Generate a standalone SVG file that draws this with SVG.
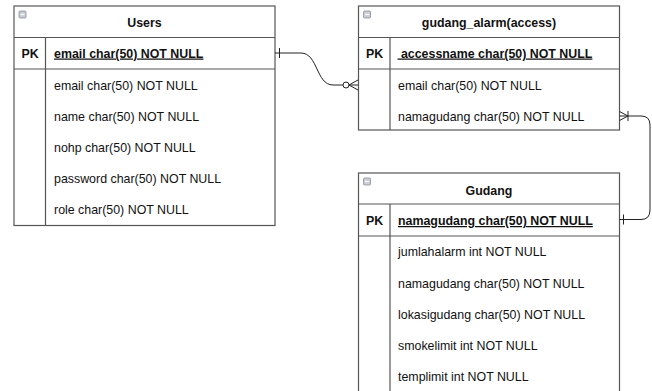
<svg xmlns="http://www.w3.org/2000/svg" width="652" height="391" viewBox="0 0 652 391">
<style>
.box{fill:#fff;stroke:#555;stroke-width:1.2}
.ln{stroke:#555;stroke-width:1.2;fill:none}
.t{font-family:"Liberation Sans",Arial,sans-serif;font-size:12.4px;fill:#111}
.b{font-weight:bold}
.c{text-anchor:middle}
.u{text-decoration:underline}
.icon{fill:#c8ccd4;stroke:#8a8f99;stroke-width:0.8}
.con{stroke:#222;stroke-width:1;fill:none}
</style>
<defs>
<g id="minus"><rect class="icon" x="0" y="0" width="7" height="7" rx="1"/><line x1="1.5" y1="3.5" x2="5.5" y2="3.5" stroke="#fff" stroke-width="1.2"/></g>
</defs>
<rect width="652" height="391" fill="#fff"/>

<g id="users">
<rect class="box" x="14" y="6" width="261" height="219.5"/>
<line class="ln" x1="14" y1="37.5" x2="275" y2="37.5"/>
<line class="ln" x1="14" y1="69" x2="275" y2="69"/>
<line class="ln" x1="45.5" y1="37.5" x2="45.5" y2="225.5"/>
<use href="#minus" x="19" y="11"/>
<text class="t b c" x="144.5" y="27">Users</text>
<text class="t b c" x="30" y="57.5">PK</text>
<text class="t b u" x="54" y="57.5">email char(50) NOT NULL</text>
<text class="t" x="54" y="90">email char(50) NOT NULL</text>
<text class="t" x="54" y="121">name char(50) NOT NULL</text>
<text class="t" x="54" y="152">nohp char(50) NOT NULL</text>
<text class="t" x="54" y="183">password char(50) NOT NULL</text>
<text class="t" x="54" y="214">role char(50) NOT NULL</text>
</g>

<g id="gudang_alarm">
<rect class="box" x="358.5" y="6" width="261" height="124"/>
<line class="ln" x1="358.5" y1="37.5" x2="619.5" y2="37.5"/>
<line class="ln" x1="358.5" y1="69" x2="619.5" y2="69"/>
<line class="ln" x1="390" y1="37.5" x2="390" y2="130"/>
<use href="#minus" x="363.5" y="11"/>
<text class="t b c" x="489" y="27">gudang_alarm(access)</text>
<text class="t b c" x="374.5" y="57.5">PK</text>
<text class="t b u" x="397.5" y="57.5" xml:space="preserve"> accessname char(50) NOT NULL</text>
<text class="t" x="398" y="90">email char(50) NOT NULL</text>
<text class="t" x="398" y="120.5">namagudang char(50) NOT NULL</text>
</g>

<g id="gudang">
<rect class="box" x="358.5" y="173" width="261" height="230"/>
<line class="ln" x1="358.5" y1="204" x2="619.5" y2="204"/>
<line class="ln" x1="358.5" y1="236" x2="619.5" y2="236"/>
<line class="ln" x1="390" y1="204" x2="390" y2="403"/>
<use href="#minus" x="363.5" y="178"/>
<text class="t b c" x="489" y="194.5">Gudang</text>
<text class="t b c" x="374.5" y="225">PK</text>
<text class="t b u" x="398" y="225">namagudang char(50) NOT NULL</text>
<text class="t" x="398" y="256">jumlahalarm int NOT NULL</text>
<text class="t" x="398" y="287.5">namagudang char(50) NOT NULL</text>
<text class="t" x="398" y="318.5">lokasigudang char(50) NOT NULL</text>
<text class="t" x="398" y="349.5">smokelimit int NOT NULL</text>
<text class="t" x="398" y="381">templimit int NOT NULL</text>
</g>

<g id="connectors">
<path class="con" d="M275,53 L301,53 C318,53 316,85 333,85 L343,85"/>
<line class="con" x1="279.5" y1="48" x2="279.5" y2="58"/>
<circle class="con" cx="346" cy="85" r="3" fill="#fff"/>
<path class="con" d="M358,80 L349,85 L358,90 M349,85 L358,85"/>

<path class="con" d="M619.5,116 L641,116 Q650,116 650,125 L650,210 Q650,219.5 641,219.5 L619.5,219.5"/>
<path class="con" d="M619.5,111.5 L628,116 L619.5,120.5"/>
<line class="con" x1="628" y1="111" x2="628" y2="121"/>
<line class="con" x1="623.5" y1="214.5" x2="623.5" y2="224.5"/>
</g>
</svg>
